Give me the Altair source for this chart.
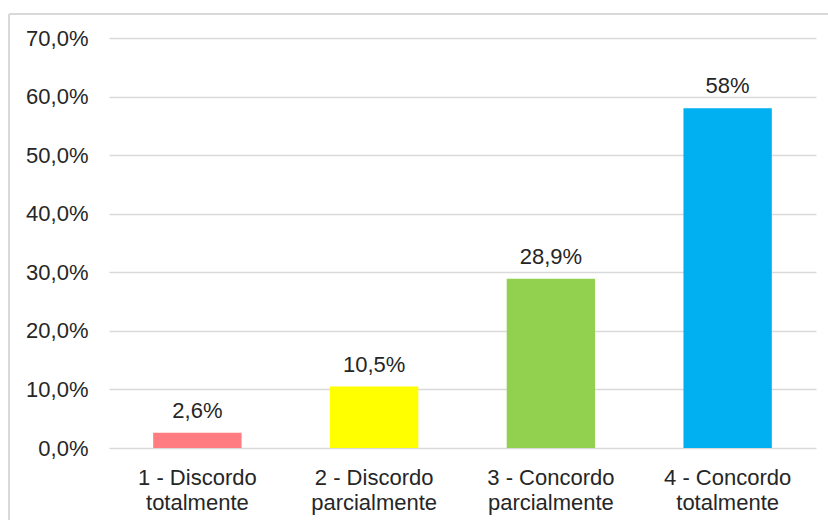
import altair as alt
import pandas as pd

categories = ["1 - Discordo totalmente", "2 - Discordo parcialmente",
              "3 - Concordo parcialmente", "4 - Concordo totalmente"]
values = [2.6, 10.5, 28.9, 58.0]
value_labels = ["2,6%", "10,5%", "28,9%", "58%"]
colors = ["#FF7C80", "#FFFF00", "#92D050", "#00B0F0"]

df = pd.DataFrame({"cat": categories, "val": values, "lab": value_labels})

FONT = "Liberation Sans"
TXT = "#262626"

x = alt.X("cat:N", sort=categories, title=None,
          scale=alt.Scale(paddingInner=0.5, paddingOuter=0.25),
          axis=alt.Axis(labelAngle=0, labelFont=FONT, labelFontSize=22, labelColor=TXT,
                        labelPadding=19, labelLineHeight=25, ticks=False, domain=False, grid=False,
                        labelExpr="[substring(datum.label, 0, lastindexof(datum.label, ' ')), substring(datum.label, lastindexof(datum.label, ' ') + 1)]"))
y = alt.Y("val:Q", title=None,
          scale=alt.Scale(domain=[0, 70], nice=False),
          axis=alt.Axis(values=[0, 10, 20, 30, 40, 50, 60, 70], labelFont=FONT, labelFontSize=22,
                        labelColor=TXT, labelPadding=21, ticks=False, domain=False,
                        gridColor="#D9D9D9", gridWidth=1.3,
                        labelExpr="replace(format(datum.value, '.1f'), '.', ',') + '%'"))

bars = alt.Chart(df).mark_bar().encode(
    x=x, y=y,
    color=alt.Color("cat:N", sort=categories, scale=alt.Scale(domain=categories, range=colors), legend=None),
)
texts = alt.Chart(df).mark_text(font=FONT, fontSize=22, color=TXT, dy=-15, baseline="alphabetic").encode(
    x=x, y=y, text="lab:N")

border_top = alt.Chart(df).mark_rule(color="#D9D9D9", strokeWidth=1.3).encode(
    x=alt.value(-100), x2=alt.value(730), y=alt.value(-24))
border_left = alt.Chart(df).mark_rule(color="#D9D9D9", strokeWidth=1.3).encode(
    x=alt.value(-100), y=alt.value(-24), y2=alt.value(500))

chart = alt.layer(bars, texts, border_top, border_left).properties(
    width=707, height=410,
    autosize=alt.AutoSizeParams(type="none"),
    padding={"left": 109, "top": 38, "right": 12, "bottom": 72},
    background="white",
).configure_view(strokeWidth=0, stroke="transparent")

chart.save("out.html", embed_options={"renderer": "svg", "actions": False})
